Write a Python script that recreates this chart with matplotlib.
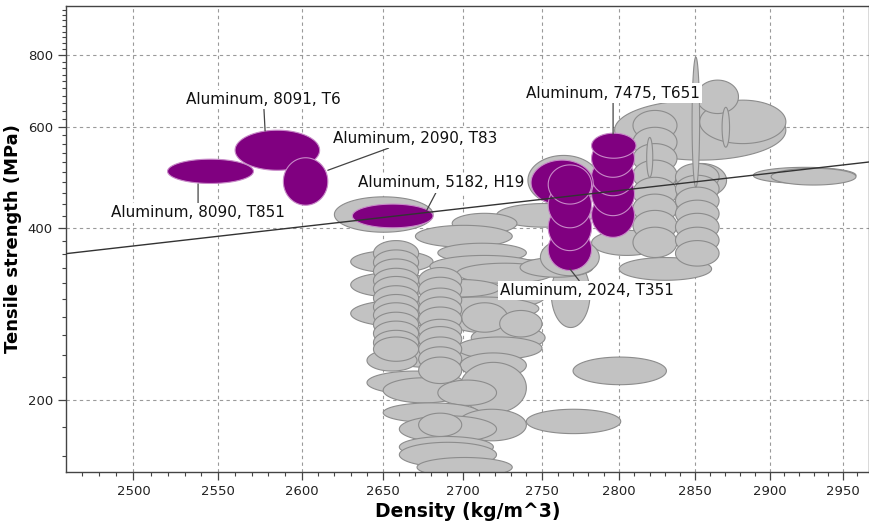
import numpy as np
import matplotlib.pyplot as plt
from matplotlib.ticker import NullFormatter

# Density / tensile strength ranges (kg/m^3, MPa) of the grey background records
gray_density_lo = [2700, 2690, 2705, 2650, 2640, 2715,
                   2620, 2741, 2721, 2693, 2670, 2684, 2630, 2679, 2696, 2630,
                   2673, 2675, 2630, 2699, 2723, 2640, 2696, 2698, 2698, 2650,
                   2684, 2650, 2696, 2660, 2672, 2660, 2660, 2671, 2770, 2740,
                   2756, 2800, 2782, 2807, 2736, 2749, 2797, 2853, 2851, 2889,
                   2901,
                   2809, 2809, 2809, 2809, 2809, 2809, 2809, 2809,
                   2837, 2837, 2837, 2837, 2837, 2837, 2837, 2837,
                   2644, 2644, 2644, 2644, 2644, 2644, 2644, 2644, 2644, 2644,
                   2644, 2644,
                   2672, 2672, 2672, 2672, 2672, 2672, 2672, 2672, 2672, 2672,
                   2848, 2868, 2818]
gray_density_hi = [2752, 2745, 2752, 2715, 2700, 2760,
                   2681, 2787, 2783, 2734, 2731, 2740, 2681, 2748, 2757, 2681,
                   2723, 2748, 2692, 2728, 2750, 2671, 2750, 2740, 2740, 2701,
                   2721, 2710, 2740, 2721, 2699, 2719, 2721, 2731, 2831, 2801,
                   2781, 2861, 2828, 2833, 2783, 2787, 2911, 2911, 2879, 2959,
                   2959,
                   2838, 2838, 2838, 2838, 2838, 2838, 2838, 2838,
                   2871, 2866, 2866, 2866, 2866, 2866, 2866, 2866,
                   2672, 2672, 2672, 2672, 2672, 2672, 2672, 2672, 2672, 2672,
                   2672, 2672,
                   2699, 2699, 2699, 2699, 2699, 2699, 2699, 2699, 2699, 2699,
                   2853, 2873, 2822]
gray_strength_lo = [290, 262, 245, 228, 205, 330,
                    393, 438, 401, 391, 370, 348, 334, 328, 320, 303,
                    303, 276, 269, 263, 258, 225, 236, 219, 190, 198,
                    196, 183, 170, 169, 173, 159, 153, 147, 213, 175,
                    268, 324, 358, 391, 328, 330, 525, 561, 633, 478,
                    475,
                    568, 531, 498, 465, 434, 408, 380, 355,
                    452, 465, 443, 422, 401, 380, 361, 343,
                    343, 331, 320, 308, 298, 287, 277, 268, 258, 249,
                    240, 234,
                    308, 297, 285, 274, 264, 253, 243, 234, 225, 214,
                    471, 553, 490]
gray_strength_hi = [318, 290, 270, 252, 225, 352,
                    453, 535, 441, 424, 404, 376, 365, 358, 347, 334,
                    325, 303, 299, 296, 287, 245, 258, 242, 233, 219,
                    217, 198, 193, 188, 190, 173, 169, 159, 238, 193,
                    351, 355, 396, 447, 355, 383, 668, 668, 724, 510,
                    508,
                    641, 599, 561, 525, 490, 458, 429, 401,
                    518, 518, 494, 471, 447, 424, 401, 380,
                    380, 366, 353, 340, 329, 317, 306, 296, 285, 275,
                    265, 258,
                    341, 328, 314, 303, 291, 277, 269, 258, 248, 238,
                    794, 649, 575]

# Highlighted aluminium records
purple_density_lo = [2520, 2560, 2589, 2631,
                     2782, 2782, 2782, 2782, 2782,
                     2743, 2754, 2754, 2754, 2754]
purple_density_hi = [2571, 2611, 2616, 2681,
                     2810, 2810, 2810, 2810, 2811,
                     2783, 2782, 2782, 2782, 2782]
purple_strength_lo = [478, 504, 438, 400,
                      385, 420, 455, 490, 529,
                      438, 337, 365, 400, 440]
purple_strength_hi = [527, 592, 530, 440,
                      460, 500, 530, 570, 585,
                      525, 400, 440, 480, 515]

label_names = ['Aluminum, 8090, T851', 'Aluminum, 8091, T6',
               'Aluminum, 2090, T83', 'Aluminum, 5182, H19',
               'Aluminum, 7475, T651', 'Aluminum, 2024, T351']
label_density = [2538, 2577, 2670, 2686, 2796, 2779]
label_strength = [425, 670, 573, 479, 687, 311]
leader_density = [2538, 2578, 2616, 2677, 2796, 2768]
leader_strength = [477, 590, 504, 429, 583, 339]

# Index line (strength ~ density^2)
line_density = [2450, 2980]
line_strength = [357.4, 525.2]

x_major = [2500, 2550, 2600, 2650, 2700, 2750, 2800, 2850, 2900, 2950]
y_major = [200, 400, 600, 800]


def main():
    """Plot and save the chart."""
    fig = plt.figure(figsize=(8.7, 5.23), dpi=100)
    ax = fig.add_axes([66 / 870, 51 / 523, 803 / 870, 466 / 523])
    ax.set_xscale('log')
    ax.set_yscale('log')

    for d0, d1, s0, s1 in zip(gray_density_lo, gray_density_hi,
                              gray_strength_lo, gray_strength_hi):
        ellipse(ax, d0, d1, s0, s1, '#c2c2c2', '#8c8c8c', 2)

    for d0, d1, s0, s1 in zip(purple_density_lo, purple_density_hi,
                              purple_strength_lo, purple_strength_hi):
        ellipse(ax, d0, d1, s0, s1, '#800080', '#c88ac8', 3)

    ax.plot(line_density, line_strength, color='#333333', lw=1, zorder=4)

    for name, dx, sy, lx, ly in zip(label_names, label_density, label_strength,
                                    leader_density, leader_strength):
        ax.annotate(name, xy=(lx, ly), xytext=(dx, sy),
                    ha='center', va='center', fontsize=11, color='#111111',
                    bbox=dict(boxstyle='square,pad=0.15', fc='white', ec='none'),
                    arrowprops=dict(arrowstyle='-', color='#444444', lw=0.9,
                                    shrinkA=0, shrinkB=0),
                    zorder=5)

    format_axes(ax)
    fig.savefig('out.png', dpi=100)


def ellipse(ax, d_lo, d_hi, s_lo, s_hi, face, edge, z):
    """Draw an ellipse spanning the given ranges on the log-log axes."""
    t = np.linspace(0, 2 * np.pi, 120)
    cx = 0.5 * (np.log(d_lo) + np.log(d_hi))
    rx = 0.5 * (np.log(d_hi) - np.log(d_lo))
    cy = 0.5 * (np.log(s_lo) + np.log(s_hi))
    ry = 0.5 * (np.log(s_hi) - np.log(s_lo))
    ax.fill(np.exp(cx + rx * np.cos(t)), np.exp(cy + ry * np.sin(t)),
            facecolor=face, edgecolor=edge, lw=0.8, zorder=z)


def format_axes(ax):
    """Limits, ticks, grid and labels."""
    ax.set_xlim(2461, 2968)
    ax.set_ylim(150, 975)

    ax.set_xticks(x_major)
    ax.set_xticklabels([str(v) for v in x_major])
    ax.set_xticks([v for v in range(2470, 2970, 10) if v % 50], minor=True)
    ax.set_yticks(y_major)
    ax.set_yticklabels([str(v) for v in y_major])
    ax.set_yticks([v for v in range(160, 980, 20) if v % 200], minor=True)
    ax.xaxis.set_minor_formatter(NullFormatter())
    ax.yaxis.set_minor_formatter(NullFormatter())

    ax.tick_params(which='major', direction='out', length=6, width=0.9,
                   color='#444444', labelsize=9.5, labelcolor='#222222')
    ax.tick_params(which='minor', direction='out', length=3, width=0.8,
                   color='#444444')

    ax.set_axisbelow(True)
    ax.grid(True, which='major', ls=(0, (3, 3)), color='#9a9a9a', lw=0.8)
    for sp in ax.spines.values():
        sp.set_color('#444444')
        sp.set_linewidth(1.0)

    ax.set_xlabel('Density (kg/m^3)', fontsize=13.5, fontweight='bold',
                  labelpad=3)
    ax.set_ylabel('Tensile strength (MPa)', fontsize=13, fontweight='bold',
                  labelpad=4)


if __name__ == "__main__":
    main()
